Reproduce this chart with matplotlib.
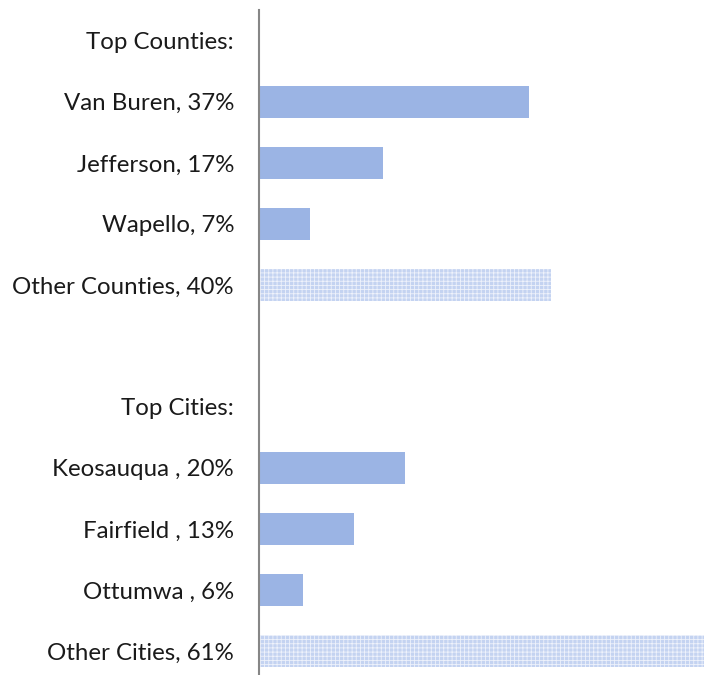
import matplotlib
matplotlib.use("Agg")
import matplotlib.pyplot as plt

labels = ["Top Counties:", "Van Buren, 37%", "Jefferson, 17%", "Wapello, 7%",
          "Other Counties, 40%", "", "Top Cities:", "Keosauqua , 20%",
          "Fairfield , 13%", "Ottumwa , 6%", "Other Cities, 61%"]
values = [0, 37, 17, 7, 40, 0, 0, 20, 13, 6, 61]
is_other = [False, False, False, False, True, False, False, False, False, False, True]

plt.rcParams['font.family'] = ['Lato', 'DejaVu Sans']
plt.rcParams['hatch.color'] = '#eef2fb'
plt.rcParams['hatch.linewidth'] = 0.6

fig = plt.figure(figsize=(7.04, 6.75), dpi=100)
ax = fig.add_axes([259/704, 0, 1 - 259/704, 1 - 10/675])

ypos = list(range(len(labels)))
for y, v, o in zip(ypos, values, is_other):
    if v == 0:
        continue
    if o:
        ax.barh(y, v, height=0.52, color='#c4d3f1', hatch='++++', linewidth=0)
    else:
        ax.barh(y, v, height=0.52, color='#9bb4e4', linewidth=0)

ax.set_xlim(0, 61)
ax.set_ylim(10.393, -0.505)
ax.set_yticks(ypos)
ax.set_yticklabels(labels, fontsize=17.3, color='#1a1a1a')
ax.tick_params(axis='y', length=0, pad=18)
ax.set_xticks([])
for s in ['top', 'right', 'bottom']:
    ax.spines[s].set_visible(False)
ax.spines['left'].set_color('#868686')
ax.spines['left'].set_linewidth(1.5)

fig.savefig("out.png", dpi=100)
